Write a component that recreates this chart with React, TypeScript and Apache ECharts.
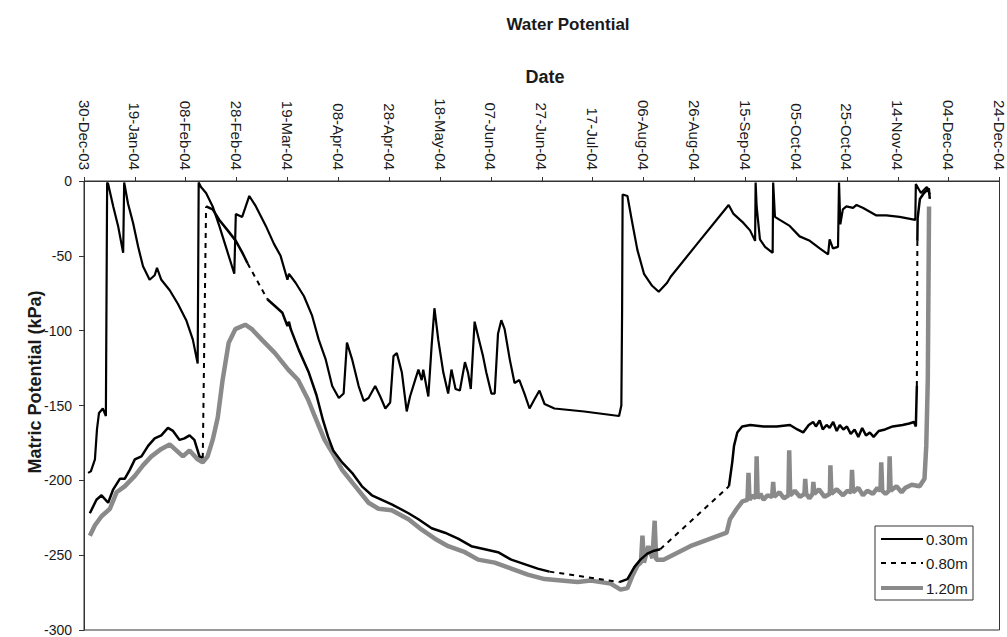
import React, { useEffect, useRef } from "react";
import * as echarts from "echarts";

const FONT = '"Liberation Sans", Arial, Helvetica, sans-serif';

// X axis: days since 30-Dec-2003, one tick every 20 days
const dateTicks = [
  "30-Dec-03", "19-Jan-04", "08-Feb-04", "28-Feb-04", "19-Mar-04", "08-Apr-04",
  "28-Apr-04", "18-May-04", "07-Jun-04", "27-Jun-04", "17-Jul-04", "06-Aug-04",
  "26-Aug-04", "15-Sep-04", "05-Oct-04", "25-Oct-04", "14-Nov-04", "04-Dec-04", "24-Dec-04",
];
const yTicks = [0, -50, -100, -150, -200, -250, -300];

// 0.30m sensor
const days030 = [
  1.6, 2.7, 4.3, 5.1, 5.9, 7.4, 8.6, 9.1, 9.5, 11.5, 13.4, 15.4, 15.8, 17.3, 19.3, 21.3, 23.2, 25.8,
  27.8, 28.7, 30.4, 33.7, 36.9, 40.2, 42.8, 44.7, 45.1, 46.0, 48.0, 50.6, 53.2, 55.8, 59.1, 59.7,
  62.2, 65.0, 67.6, 71.5, 74.7, 77.3, 80.0, 80.6, 83.2, 86.5, 89.7, 92.3, 95.0, 97.6, 100.2, 102.1,
  103.4, 105.4, 108.0, 110.0, 111.9, 114.5, 116.5, 118.5, 120.4, 121.7, 123.0, 125.0, 126.9, 128.2,
  130.2, 131.5, 132.8, 133.4, 135.4, 136.7, 137.8, 139.3, 141.3, 143.2, 144.5, 146.1, 147.8, 149.8,
  151.0, 152.1, 153.6, 155.6, 156.9, 158.2, 160.2, 161.5, 162.8, 164.1, 165.4, 167.4, 169.3, 171.2,
  173.2, 175.2, 177.1, 179.1, 181.1, 185.0, 196.7, 210.4, 211.3, 211.6, 211.8, 213.7, 215.6, 217.6,
  220.2, 223.4, 226.0, 229.3, 230.7, 241.1, 253.5, 255.4, 259.3, 261.9, 263.9, 264.1, 264.5, 265.8,
  267.8, 270.8, 271.0, 271.7, 273.6, 277.5, 281.4, 285.4, 289.3, 292.6, 293.2, 294.5, 296.5, 296.9,
  297.4, 298.4, 299.8, 302.4, 303.8, 306.4, 311.6, 315.5, 320.7, 326.9, 327.1, 329.1, 331.4, 332.6,
];
const kpa030 = [
  -195, -194, -186, -166, -155, -152, -157, -1, -2, -17, -30, -48, -1, -15, -28, -44, -57, -66,
  -63, -58, -66, -73, -82, -93, -106, -122, -1, -4, -8, -17, -30, -44, -62, -22,
  -24, -10, -17, -30, -42, -50, -66, -62, -68, -77, -90, -106, -119, -137, -145, -142,
  -108, -119, -137, -147, -145, -137, -144, -152, -148, -117, -115, -128, -154, -144,
  -133, -126, -133, -126, -144, -110, -85, -106, -128, -142, -126, -139, -140, -121,
  -128, -139, -94, -108, -117, -128, -142, -142, -102, -93, -99, -119, -135, -133,
  -142, -152, -146, -140, -149, -152, -154, -157, -150, -86, -9, -10, -28, -46,
  -62, -70, -74, -68, -64, -42, -16, -22, -28, -33, -40, -1, -17, -39,
  -44, -48, -1, -24, -26, -30, -37, -40, -45, -49, -39, -45, -44, -1,
  -29, -19, -17, -18, -16, -18, -23, -23, -24, -26, -2, -8, -4, -9,
];

// 0.80m sensor (logger gaps drawn dashed, as in the original)
const days080 = [
  2.3, 4.9, 6.9, 9.5, 11.5, 14.1, 16.0, 18.0, 20.0, 22.6, 25.2, 27.8, 30.4, 33.0, 35.0, 37.6, 39.5,
  41.5, 43.4, 45.4, 46.7,
  48.0, 50.6, 53.2, 56.5, 59.7, 62.3, 64.3,
  72.1, 75.4, 78.0, 80.0, 80.6, 81.3, 84.5, 88.4, 91.4, 94.0, 96.0, 98.0, 101.5, 105.4, 109.3, 113.2,
  117.1, 121.0, 127.6, 131.5, 136.7, 141.9, 147.1, 152.3, 157.6, 162.8, 168.0, 173.2, 178.4, 183.0,
  210.5, 213.7, 216.4, 218.8, 221.5, 224.2, 226.6,
  253.6, 254.9, 255.6, 256.9, 258.8, 262.0, 267.2, 272.4, 277.6, 280.5, 282.8, 285.0, 286.7, 287.8,
  289.3, 290.5, 292.0, 293.2, 294.6, 296.0, 297.2, 298.6, 300.0, 301.5, 303.0, 304.5, 306.0, 307.5,
  309.0, 310.5, 312.5, 315.0, 318.0, 321.9, 324.5, 326.4, 327.1, 327.5,
  327.7, 327.8, 328.7, 330.3, 332.2, 332.6,
];
const kpa080 = [
  -222, -213, -210, -215, -206, -199, -199, -193, -186, -184, -177, -172, -170, -165, -167, -173, -172,
  -170, -173, -184, -185,
  -17, -19, -26, -33, -40, -48, -55,
  -79, -84, -88, -97, -94, -99, -113, -128, -143, -160, -171, -180, -188, -195, -204, -210,
  -213, -216, -222, -226, -232, -235, -239, -244, -246, -248, -253, -256, -259, -261,
  -268, -266, -258, -253, -249, -247, -246,
  -204, -188, -177, -168, -164, -163, -164, -164, -163, -166, -168, -163, -161, -164,
  -160, -166, -163, -165, -161, -167, -163, -166, -164, -169, -166, -171, -165, -170,
  -168, -171, -167, -166, -164, -163, -162, -161, -164, -137,
  -40, -25, -12, -8, -5, -12,
];
const gapStarts080 = [46.7, 64.3, 183.0, 226.6, 327.5];

// 1.20m sensor
const days120 = [
  2.3, 4.3, 6.9, 10.2, 12.8, 16.0, 20.0, 23.2, 26.5, 30.4, 33.7, 36.3, 38.9, 41.5, 44.7, 46.7, 48.6,
  50.6, 52.6, 54.5, 56.9, 59.5, 63.4, 66.0, 69.9, 75.1, 80.3, 84.2, 88.1, 90.7, 94.6, 98.5, 101.5,
  106.7, 111.9, 115.8, 121.0, 127.6, 132.8, 138.0, 143.2, 149.8, 155.0, 161.5, 168.0, 174.5, 181.1,
  187.6, 194.1, 199.3, 207.1, 211.0, 213.7, 215.6, 217.6, 219.0, 219.6, 220.2, 221.9, 223.5, 224.4,
  225.0, 227.9, 238.4, 252.7, 254.0, 256.7, 258.9, 260.9, 261.3, 261.7, 263.0, 264.2, 264.5, 264.9,
  266.0, 267.2, 268.8, 270.6, 271.0, 271.4, 273.5, 275.2, 277.0, 277.3, 277.7, 279.5, 281.5, 283.3,
  283.6, 284.0, 285.2, 286.5, 286.8, 287.2, 289.0, 291.2, 293.3, 293.5, 293.9, 296.0, 298.5, 300.2,
  301.7, 302.0, 302.4, 304.5, 306.3, 308.0, 310.2, 312.0, 313.2, 313.5, 313.9, 315.2, 316.5, 316.8,
  317.2, 319.5, 321.5, 323.0, 325.5, 328.6, 330.5, 331.2, 331.8, 332.3,
];
const kpa120 = [
  -237, -230, -224, -219, -208, -204, -197, -190, -184, -179, -176, -180, -184, -180, -186, -188, -184,
  -173, -158, -133, -108, -99, -96, -99, -106, -115, -126, -133, -146, -157, -173, -184, -193,
  -204, -215, -219, -220, -226, -233, -239, -244, -248, -253, -255, -259, -263, -266,
  -267, -268, -267, -269, -273, -272, -264, -257, -255, -237, -255, -244, -252, -227,
  -253, -253, -244, -235, -226, -219, -214, -213, -195, -213, -210, -212, -184, -212,
  -209, -213, -210, -211, -201, -211, -208, -212, -210, -180, -210, -207, -211, -209,
  -199, -209, -212, -209, -201, -209, -206, -211, -209, -190, -209, -206, -210, -207,
  -208, -193, -208, -205, -210, -207, -209, -205, -207, -188, -207, -209, -207, -184,
  -207, -204, -208, -205, -203, -204, -199, -177, -133, -17,
];

function fmtDay(v: number) {
  const i = Math.round(v / 20);
  return dateTicks[i] ?? "";
}

function buildPairs(d: number[], v: number[]) {
  return d.map((x, i) => [x, v[i]]);
}

function solidWithBreaks(d: number[], v: number[], gaps: number[]) {
  const out: any[] = [];
  d.forEach((x, i) => {
    out.push([x, v[i]]);
    if (gaps.includes(x) && i < d.length - 1) out.push([(x + d[i + 1]) / 2, "-"]);
  });
  return out;
}

function gapSegments(d: number[], v: number[], gaps: number[]) {
  const out: any[] = [];
  d.forEach((x, i) => {
    if (gaps.includes(x) && i < d.length - 1) {
      out.push([x, v[i]], [d[i + 1], v[i + 1]], [d[i + 1], "-"]);
    }
  });
  return out;
}

export default function App() {
  const ref = useRef<HTMLDivElement>(null);

  useEffect(() => {
    document.body.style.margin = "0";
    const chart = echarts.init(ref.current!, null, { renderer: "svg" });
    const txt = (text: string, x: number, y: number, size: number, bold: boolean, rot = 0, align = "center") => ({
      type: "text",
      x,
      y,
      rotation: rot,
      z: 100,
      style: {
        text,
        fontSize: size,
        fontWeight: bold ? "bold" : "normal",
        fontFamily: FONT,
        fill: "#1a1a1a",
        textAlign: align,
        textVerticalAlign: "middle",
        verticalAlign: "middle",
      },
    });
    const legendLine = (y: number, color: string, width: number, dash?: number[]) => ({
      type: "line",
      z: 100,
      shape: { x1: 881, y1: y, x2: 923, y2: y },
      style: { stroke: color, lineWidth: width, lineDash: dash },
    });

    chart.setOption({
      animation: false,
      backgroundColor: "#ffffff",
      grid: {
        left: 84,
        top: 181,
        width: 920,
        height: 449,
        show: true,
        borderColor: "#333",
        borderWidth: 1,
        backgroundColor: "transparent",
      },
      xAxis: {
        type: "value",
        position: "top",
        min: 0,
        max: 360,
        interval: 20,
        axisLine: { show: true, onZero: false, lineStyle: { color: "#333", width: 1 } },
        axisTick: { show: true, length: 4, lineStyle: { color: "#333" } },
        axisLabel: {
          rotate: 90,
          margin: 11,
          fontSize: 15,
          fontFamily: FONT,
          color: "#1a1a1a",
          showMinLabel: true,
          showMaxLabel: true,
          formatter: (v: number) => fmtDay(v),
        },
        splitLine: { show: false },
      },
      yAxis: {
        type: "value",
        min: yTicks[yTicks.length - 1],
        max: yTicks[0],
        interval: 50,
        axisLine: { show: true, onZero: false, lineStyle: { color: "#333", width: 1 } },
        axisTick: { show: true, length: 5, lineStyle: { color: "#333" } },
        axisLabel: { margin: 12, fontSize: 14, fontFamily: FONT, color: "#1a1a1a" },
        splitLine: { show: false },
      },
      series: [
        {
          name: "1.20m",
          type: "line",
          data: buildPairs(days120, kpa120),
          showSymbol: false,
          symbol: "none",
          lineStyle: { color: "#8a8a8a", width: 4.5 },
          z: 2,
        },
        {
          name: "0.80m",
          type: "line",
          data: solidWithBreaks(days080, kpa080, gapStarts080),
          showSymbol: false,
          symbol: "none",
          connectNulls: false,
          lineStyle: { color: "#000", width: 2.5 },
          z: 3,
        },
        {
          name: "0.80m gaps",
          type: "line",
          data: gapSegments(days080, kpa080, gapStarts080),
          showSymbol: false,
          symbol: "none",
          connectNulls: false,
          lineStyle: { color: "#000", width: 2, type: [5, 5] },
          z: 3,
        },
        {
          name: "0.30m",
          type: "line",
          data: buildPairs(days030, kpa030),
          showSymbol: false,
          symbol: "none",
          lineStyle: { color: "#000", width: 2.2 },
          z: 4,
        },
      ],
      graphic: [
        txt("Water Potential", 568, 24, 17, true),
        txt("Date", 545, 77, 18, true),
        txt("Matric Potential (kPa)", 35, 382, 18, true, Math.PI / 2),
        {
          type: "rect",
          z: 99,
          shape: { x: 875, y: 526, width: 98, height: 74 },
          style: { fill: "#fff", stroke: "#333", lineWidth: 1 },
        },
        legendLine(539, "#000", 2),
        legendLine(563, "#000", 2, [5, 5]),
        legendLine(588, "#8a8a8a", 4),
        txt("0.30m", 926, 539, 15, false, 0, "left"),
        txt("0.80m", 926, 563, 15, false, 0, "left"),
        txt("1.20m", 926, 588, 15, false, 0, "left"),
      ],
    });
    return () => chart.dispose();
  }, []);

  return <div ref={ref} style={{ width: 1007, height: 637, position: "absolute", left: 0, top: 0 }} />;
}
